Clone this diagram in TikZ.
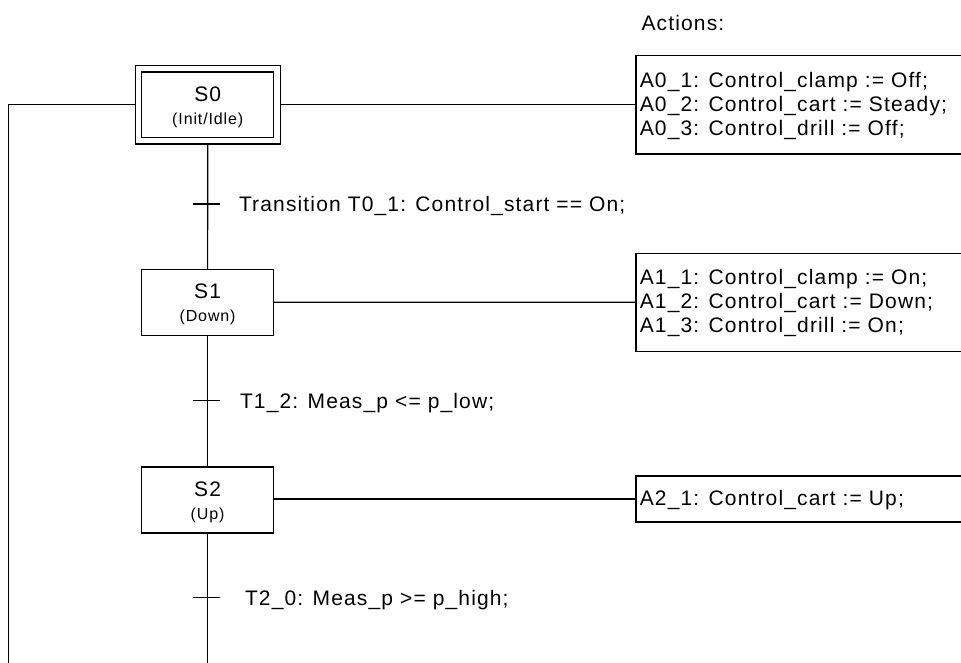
\documentclass[tikz,border=0pt]{standalone}
\usepackage{fontspec}
\setmainfont{Liberation Sans}[LetterSpace=5.5]
\begin{document}
\begin{tikzpicture}[x=1pt,y=-1pt,
  every node/.style={inner sep=0pt, outer sep=0pt},
  conn/.style={line width=1.2pt, black},
  statebox/.style={draw, line width=1.2pt, minimum width=132pt, minimum height=66pt},
  initbox/.style={draw, line width=1.2pt, double, double distance=5.3pt,
     minimum width=138.5pt, minimum height=72pt, outer sep=3.85pt},
  actbox/.style={draw, line width=1.2pt, minimum width=380pt, anchor=west},
  acttext/.style={anchor=north west, align=left, font=\fontsize{21}{24}\selectfont},
  bigtxt/.style={anchor=base, font=\fontsize{21}{24}\selectfont},
  smalltxt/.style={anchor=base, font=\fontsize{16}{20}\selectfont},
  transtxt/.style={anchor=base west, font=\fontsize{21}{24}\selectfont},
]
\useasboundingbox (0,0) rectangle (961,662);
\clip (0,0) rectangle (961,662);

% states
\node[initbox] (s0) at (207.75,104.7) {};
\node[statebox] (s1) at (207.6,302.2) {};
\node[statebox] (s2) at (207.6,500) {};

\node[bigtxt] (s0a) at ([yshift=3.5pt]s0.center) {S0};
\node[smalltxt] (s0b) at ([yshift=-19.5pt]s0.center) {(Init/Idle)};
\node[bigtxt] (s1a) at ([yshift=3.7pt]s1.center) {S1};
\node[smalltxt] (s1b) at ([yshift=-19.3pt]s1.center) {(Down)};
\node[bigtxt] (s2a) at ([yshift=3.7pt]s2.center) {S2};
\node[smalltxt] (s2b) at ([yshift=-19.3pt]s2.center) {(Up)};

% action boxes
\node[actbox, minimum height=98.7pt] (a0) at (636,104.7) {};
\node[actbox, minimum height=98pt] (a1) at (636,302.3) {};
\node[actbox, minimum height=46pt] (a2) at (636,499) {};

\node[anchor=base west, font=\fontsize{21}{24}\selectfont] (acts) at (641.5,30) {Actions:};

\node[acttext] (a0t) at (639.8,69.2) {\rule{0pt}{18pt}A0\_1: Control\_clamp := Off;\\A0\_2: Control\_cart := Steady;\\A0\_3: Control\_drill := Off;};
\node[acttext] (a1t) at (639.8,266.8) {\rule{0pt}{18pt}A1\_1: Control\_clamp := On;\\A1\_2: Control\_cart := Down;\\A1\_3: Control\_drill := On;};
\node[acttext] (a2t) at (639.8,487.5) {\rule{0pt}{18pt}A2\_1: Control\_cart := Up;};

% connectors
\coordinate (lb) at (8.7,680);
\coordinate (sb) at (207.6,680);
\draw[conn] (s0.west) -| (lb);
\draw[conn] (s0.south) -- (s1.north);
\draw[conn] (s1.south) -- (s2.north);
\draw[conn] (s2.south) -- (sb);
\draw[conn] (s0.east) -- (a0.west);
\draw[conn] (s1.east) -- (a1.west);
\draw[conn] (s2.east |- a2.west) -- (a2.west);

% transitions
\coordinate (t0) at (207.6,204);
\coordinate (t1) at (207.6,400.7);
\coordinate (t2) at (207.6,597.7);
\draw[conn] ([xshift=-14.3pt]t0) -- ([xshift=12.4pt]t0);
\draw[conn] ([xshift=-14.3pt]t1) -- ([xshift=12.4pt]t1);
\draw[conn] ([xshift=-14.3pt]t2) -- ([xshift=12.4pt]t2);
\node[transtxt] (t0l) at (239,211.7) {Transition T0\_1: Control\_start == On;};
\node[transtxt] (t1l) at (240,408.3) {T1\_2: Meas\_p <= p\_low;};
\node[transtxt] (t2l) at (245,605.7) {T2\_0: Meas\_p >= p\_high;};
\end{tikzpicture}
\end{document}
